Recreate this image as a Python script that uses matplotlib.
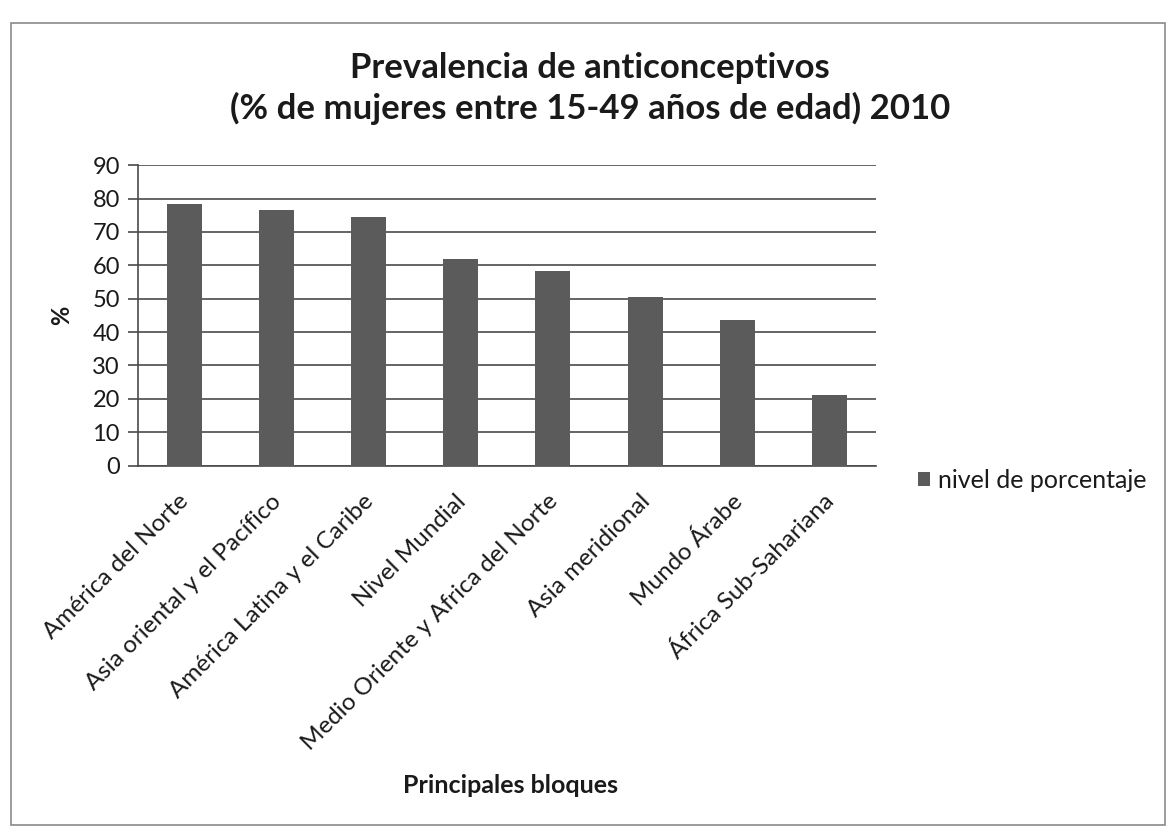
import matplotlib
matplotlib.use("Agg")
import matplotlib.pyplot as plt
from matplotlib.patches import Rectangle
from matplotlib.transforms import ScaledTranslation

plt.rcParams['font.family'] = ['Lato', 'DejaVu Sans']

categories = [
    "América del Norte",
    "Asia oriental y el Pacífico",
    "América Latina y el Caribe",
    "Nivel Mundial",
    "Medio Oriente y Africa del Norte",
    "Asia meridional",
    "Mundo Árabe",
    "África Sub-Sahariana",
]
values = [78.3, 76.6, 74.6, 62.0, 58.3, 50.6, 43.5, 21.2]
y_ticks = [0, 10, 20, 30, 40, 50, 60, 70, 80, 90]
series_name = "nivel de porcentaje"

bar_color = "#5b5b5b"
grid_color = "#4a4a4a"
text_color = "#1a1a1a"

fig = plt.figure(figsize=(11.69, 8.30), dpi=100)
fig.patch.set_facecolor("white")

# chart area border
fig.patches.append(Rectangle((0.009, 0.006), 0.988, 0.966, transform=fig.transFigure,
                             fill=False, edgecolor="#8a8a8a", linewidth=1.2))

ax = fig.add_axes([0.118, 0.439, 0.631, 0.362])
x = range(len(categories))
ax.bar(x, values, width=0.38, color=bar_color, zorder=3, label=series_name)

ax.set_xlim(-0.5, len(categories) - 0.5)
ax.set_ylim(0, 90)
ax.set_yticks(y_ticks)
ax.set_yticklabels([str(t) for t in y_ticks], fontsize=17, color=text_color)
ax.yaxis.grid(True, color=grid_color, linewidth=1.2, zorder=0)
ax.set_axisbelow(True)

ax.set_xticks(list(x))
ax.set_xticklabels(categories, rotation=45, ha="right", rotation_mode="anchor",
                   fontsize=17.5, color=text_color)
ax.tick_params(axis="x", length=0, pad=18)
ax.tick_params(axis="y", length=7, width=1.2, color=grid_color, pad=6)
# nudge category labels slightly left of their bars
shift = ScaledTranslation(-6 / 100, 0, fig.dpi_scale_trans)
for lbl in ax.get_xticklabels():
    lbl.set_transform(lbl.get_transform() + shift)

for side in ("top", "right"):
    ax.spines[side].set_visible(False)
for side in ("left", "bottom"):
    ax.spines[side].set_color(grid_color)
    ax.spines[side].set_linewidth(1.2)

ax.set_ylabel("%", fontsize=17, fontweight="bold", color=text_color, labelpad=14)
fig.text(0.437, 0.054, "Principales bloques", ha="center", va="center",
         fontsize=18, fontweight="bold", color=text_color)

fig.text(0.505, 0.893, "Prevalencia de anticonceptivos\n(% de mujeres entre 15-49 años de edad) 2010",
         ha="center", va="center", fontsize=25, fontweight="bold", color=text_color,
         linespacing=1.3)

leg = ax.legend(loc="center left", bbox_to_anchor=(1.027, -0.05), frameon=False,
                fontsize=18, handlelength=0.5, handleheight=0.5, handletextpad=0.3)
for t in leg.get_texts():
    t.set_color(text_color)

fig.savefig("out.png", dpi=100, facecolor="white")
